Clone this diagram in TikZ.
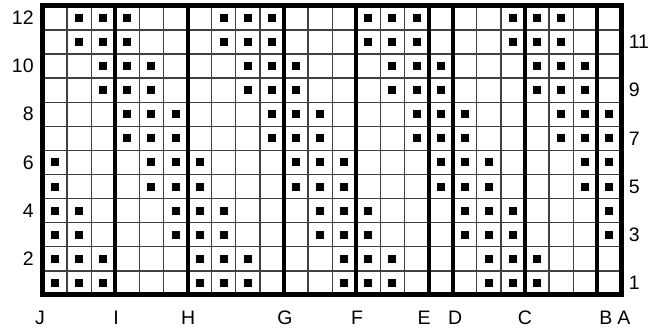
\documentclass[tikz,border=0pt]{standalone}
\usepackage{fontspec}
\setmainfont{Liberation Sans}
\usetikzlibrary{positioning}

\begin{document}
\begin{tikzpicture}[x=24.1pt,y=24.1pt,
    thinline/.style={line width=1.3pt,black!75},
    thickline/.style={line width=4pt},
    dot/.style={fill=black,minimum size=8pt,inner sep=0pt,draw=none},
    lbl/.style={inner sep=0pt,font=\fontsize{19.5}{21}\selectfont}]
  \useasboundingbox (-1.784,-1.452) rectangle (25.477,12.24);
  % thin grid
  \foreach \c in {1,...,23} \draw[thinline] (\c,0) -- (\c,12);
  \foreach \r in {1,...,11} \draw[thinline] (0,\r) -- (24,\r);
  % filled cells, two rows at a time
  \foreach \r/\cols in {12/{2,3,4,8,9,10,14,15,16,20,21,22},
                        10/{3,4,5,9,10,11,15,16,17,21,22,23},
                        8/{4,5,6,10,11,12,16,17,18,22,23,24},
                        6/{1,5,6,7,11,12,13,17,18,19,23,24},
                        4/{1,2,6,7,8,12,13,14,18,19,20,24},
                        2/{1,2,3,7,8,9,13,14,15,19,20,21}}
    \foreach \c in \cols {
      \node[dot] (d\c-\r) at (\c-0.5,\r-0.5) {};
      \node[dot] (d\c-\r b) at (\c-0.5,\r-1.5) {};
    }
  % section borders and letters
  \foreach \c/\name/\lx in {0/J/-0.12,3/I/3.03,6/H/6.02,10/G/10.04,13/F/13.03,
                            16/E/15.81,17/D/17.1,20/C/20.0,23/B/23.36,24/A/24.1} {
    \draw[thickline] (\c,0) -- (\c,12);
    \node[lbl] (col\name) at (\lx,-0.95) {\name};
  }
  \draw[line width=5pt] (0,0) rectangle (24,12);
  % row numbers
  \foreach \r in {2,4,...,12}
    \node[lbl,anchor=east] (row\r) at (-0.38,\r-0.5) {\r};
  \foreach \r in {1,3,...,11}
    \node[lbl,anchor=west] (row\r) at (24.3,\r-0.5) {\r};
\end{tikzpicture}
\end{document}
